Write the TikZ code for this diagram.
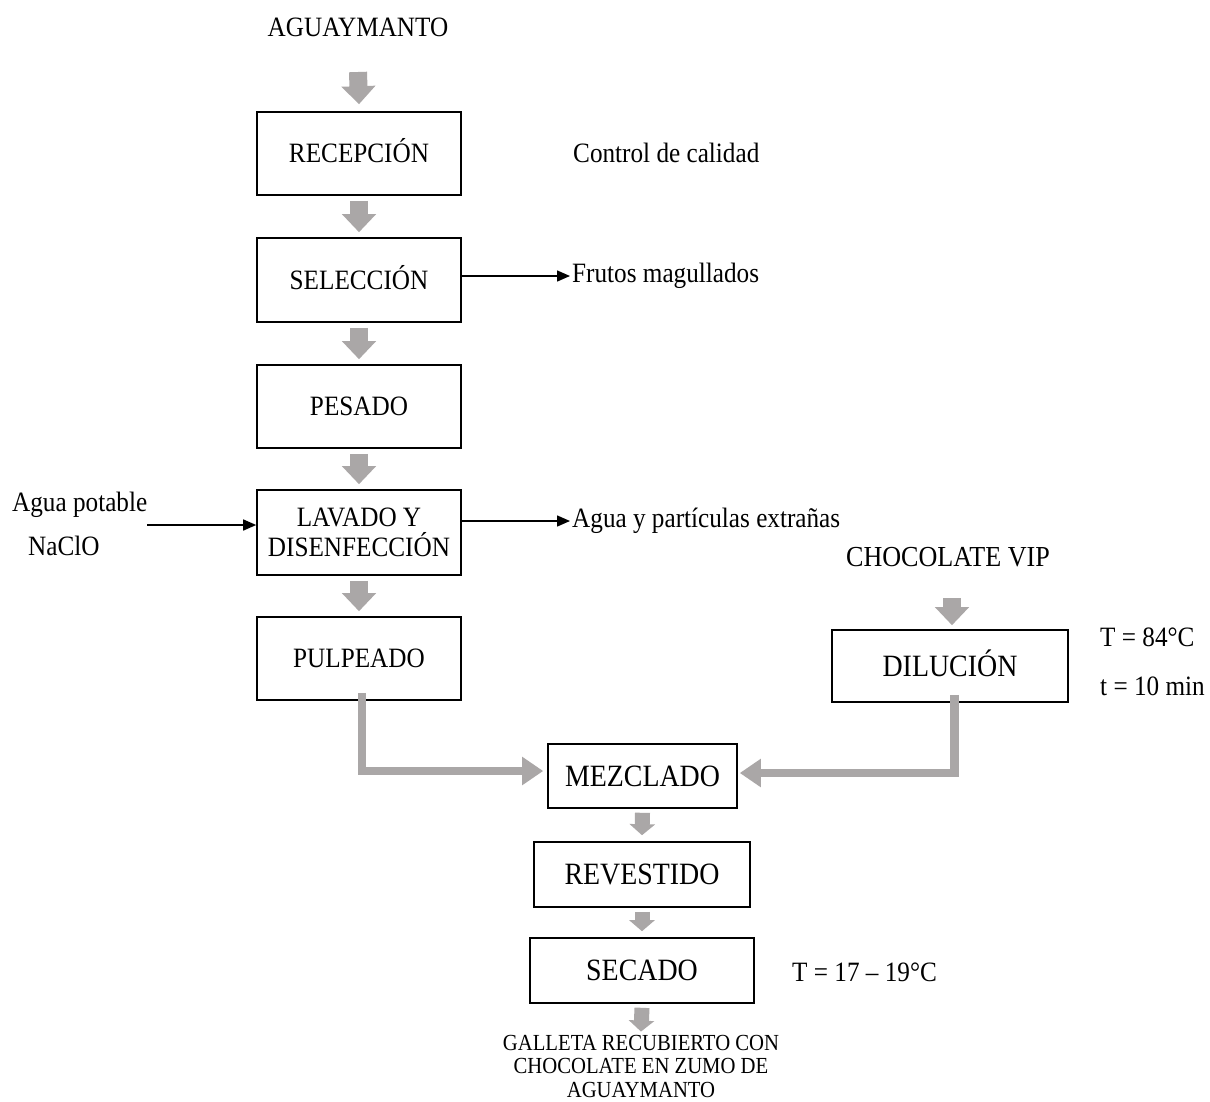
\documentclass[tikz,border=0pt]{standalone}
\usepackage{fontspec}
\setmainfont{Liberation Serif}[FakeStretch=0.9]
\usetikzlibrary{arrows.meta}
\definecolor{garr}{RGB}{170,167,167}
\begin{document}
\begin{tikzpicture}[x=1pt,y=-1pt,
  box/.style={draw=black,line width=1.6pt,inner sep=0pt,font=\fontsize{28}{30}\selectfont,text height=18.5pt,text depth=0pt},
  lowbox/.style={box,font=\fontsize{31}{33}\selectfont,text height=20.5pt},
  lbl/.style={inner sep=0pt,font=\fontsize{28}{30}\selectfont},
  bigarr/.style={draw=garr,line width=18pt,-{Triangle[width=33pt,length=18pt]}},
  smallarr/.style={draw=garr,line width=15pt,-{Triangle[width=25pt,length=11pt]}},
  elbow/.style={draw=garr,line width=8.5pt,line join=miter,-{Triangle[width=27pt,length=21pt]}},
  thinarr/.style={draw=black,line width=1.5pt,-{Triangle[width=11pt,length=13pt]}}]
\fill[white] (0,0) rectangle (1210,1101);
\useasboundingbox (0,0) rectangle (1210,1101);

% left column
\node[lbl] (agu) at (358,27) {AGUAYMANTO};
\node[box,minimum width=204pt,minimum height=83pt] (rec) at (359,153.5) {RECEPCIÓN};
\node[box,minimum width=204pt,minimum height=84pt] (sel) at (359,280) {SELECCIÓN};
\node[box,minimum width=204pt,minimum height=83pt] (pes) at (359,406.5) {PESADO};
\node[box,text height=,text depth=,align=center,minimum width=204pt,minimum height=85pt] (lav) at (359,532.5) {LAVADO Y\\DISENFECCIÓN};
\node[box,minimum width=204pt,minimum height=83pt] (pul) at (359,658.5) {PULPEADO};

\coordinate (agutop) at (358,72);
\draw[bigarr] (agutop) -- ([yshift=7pt]rec.north);
\draw[bigarr] ([yshift=-5pt]rec.south) -- ([yshift=5pt]sel.north);
\draw[bigarr] ([yshift=-5pt]sel.south) -- ([yshift=5pt]pes.north);
\draw[bigarr] ([yshift=-5pt]pes.south) -- ([yshift=5pt]lav.north);
\draw[bigarr] ([yshift=-5pt]lav.south) -- ([yshift=5pt]pul.north);

% side labels
\node[lbl,anchor=west] (cdc) at (573,153) {Control de calidad};
\node[lbl,anchor=west] (fru) at (572,276) {Frutos magullados};
\node[lbl,anchor=west] (apt) at (572,521) {Agua y partículas extrañas};
\node[lbl,anchor=west] (agp) at (12,505) {Agua potable};
\node[lbl,anchor=west] (nac) at (28,546) {NaClO};
\coordinate (ain) at (147,525);

\draw[thinarr] (sel.east |- fru.west) -- ([xshift=-2pt]fru.west);
\draw[thinarr] (lav.east |- apt.west) -- ([xshift=-2pt]apt.west);
\draw[thinarr] (ain) -- ([yshift=7.5pt]lav.west);

% right branch
\node[lbl,font=\fontsize{29}{31}\selectfont] (cho) at (948,557) {CHOCOLATE VIP};
\node[lowbox,minimum width=236pt,minimum height=72pt] (dil) at (950,666) {DILUCIÓN};
\draw[bigarr] ([xshift=4pt,yshift=-31pt]cho.south) -- ([xshift=2pt,yshift=4pt]dil.north);
\node[lbl,anchor=west] (tem1) at (1100,637) {T = 84°C};
\node[lbl,anchor=west] (tim1) at (1100,686) {t = 10 min};

% lower column
\node[lowbox,minimum width=189pt,minimum height=64pt] (mez) at (642.5,776) {MEZCLADO};
\node[lowbox,minimum width=216pt,minimum height=65pt] (rev) at (642,874.5) {REVESTIDO};
\node[lowbox,minimum width=224pt,minimum height=65pt] (sec) at (642,970.5) {SECADO};
\node[lbl,anchor=west] (tem2) at (792,972) {T = 17 – 19°C};
\node[inner sep=0pt,align=center,font=\fontsize{23}{23.5}\selectfont] (gal) at (641,1066)
  {GALLETA RECUBIERTO CON\\CHOCOLATE EN ZUMO DE\\AGUAYMANTO};

\draw[elbow] ([xshift=3pt,yshift=8pt]pul.south) |- ([xshift=-4pt,yshift=5pt]mez.west);
\draw[elbow] ([xshift=4.5pt,yshift=8pt]dil.south) |- ([xshift=2pt,yshift=3pt]mez.east);

\draw[smallarr] ([yshift=-4pt]mez.south) -- ([yshift=6pt]rev.north);
\draw[smallarr] ([yshift=-4pt]rev.south) -- ([yshift=6pt]sec.north);
\draw[smallarr] ([yshift=-4pt]sec.south) -- ([yshift=3pt]gal.north);
\end{tikzpicture}
\end{document}
